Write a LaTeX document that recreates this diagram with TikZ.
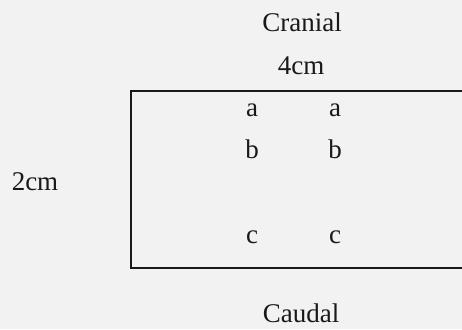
\documentclass[tikz,border=0pt]{standalone}
\usepackage{fontspec}
\setmainfont{Liberation Serif}
\begin{document}
\begin{tikzpicture}[x=1pt,y=-1pt,
  lbl/.style={anchor=base,inner sep=0pt,text=black!90,font=\fontsize{27}{32}\selectfont},
  frame/.style={draw=black!90,line width=2.2pt}]
\fill[black!5] (0,0) rectangle (462,329);
\useasboundingbox (0,0) rectangle (462,329);
\node[lbl] (cranial) at (302,32) {Cranial};
\node[lbl] (w) at (301,74) {4cm};
\node[lbl] (h) at (35,190) {2cm};
\node[lbl] (caudal) at (301,322) {Caudal};
\coordinate (tr) at (464,91);
\coordinate (tl) at (131,91);
\coordinate (bl) at (131,268);
\coordinate (br) at (464,268);
\draw[frame] (tr) -- (tl) -- (bl) -- (br);
\node[lbl] (a1) at (252,116) {a};
\node[lbl] (a2) at (335,116) {a};
\node[lbl] (b1) at (252,158) {b};
\node[lbl] (b2) at (335,158) {b};
\node[lbl] (c1) at (252,243) {c};
\node[lbl] (c2) at (335,243) {c};
\end{tikzpicture}
\end{document}
